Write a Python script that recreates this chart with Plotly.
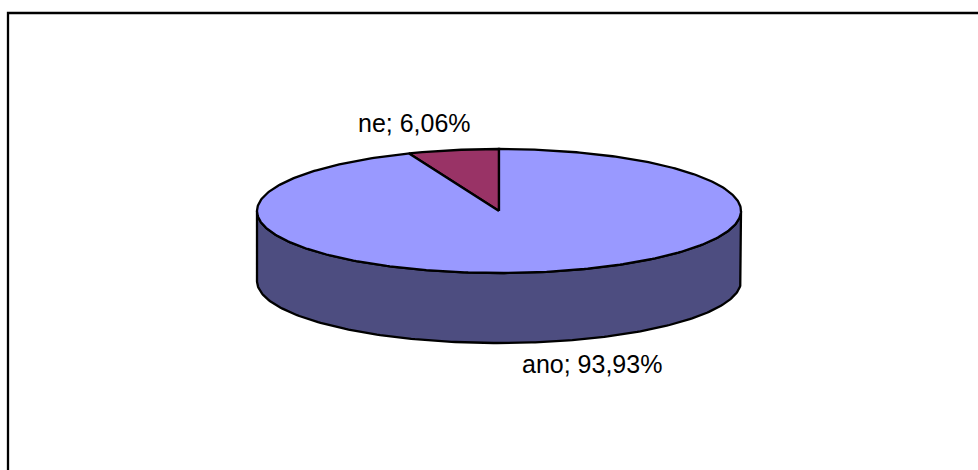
import numpy as np
import plotly.graph_objects as go

# ---- data ----
labels = ["ano", "ne"]
values = [93.93, 6.06]
top_colors = ["#9999FF", "#993366"]
side_colors = ["#4D4D80", "#4D1A33"]

# ---- geometry (pixel space) ----
W, H = 978, 470
cx, cy = 499, 211
rx, ry = 242, 62
depth = 70

total = sum(values)
# slices go counter-clockwise starting at 12 o'clock; 'ne' first, then 'ano'
order = [1, 0]
fracs = [values[i] / total for i in order]
starts = np.cumsum([0] + fracs[:-1]) * 2 * np.pi
ends = np.cumsum(fracs) * 2 * np.pi


def pt(theta, dy=0.0):
    return cx - rx * np.sin(theta), cy - ry * np.cos(theta) + dy


fig = go.Figure()

# side (front visible part: theta 90..270 deg)
for k, i in enumerate(order):
    a0 = max(starts[k], np.pi / 2)
    a1 = min(ends[k], 3 * np.pi / 2)
    if a1 <= a0:
        continue
    th = np.linspace(a0, a1, 200)
    xt, yt = pt(th)
    xb, yb = pt(th[::-1], depth)
    xs = np.concatenate([xt, xb, xt[:1]])
    ys = np.concatenate([yt, yb, yt[:1]])
    fig.add_trace(go.Scatter(x=xs, y=ys, mode="lines", fill="toself",
                             fillcolor=side_colors[i],
                             line=dict(color="black", width=2.3),
                             hoverinfo="skip", showlegend=False))

# top faces
for k, i in enumerate(order):
    th = np.linspace(starts[k], ends[k], 400)
    xa, ya = pt(th)
    xs = np.concatenate([[cx], xa, [cx]])
    ys = np.concatenate([[cy], ya, [cy]])
    fig.add_trace(go.Scatter(x=xs, y=ys, mode="lines", fill="toself",
                             fillcolor=top_colors[i],
                             line=dict(color="black", width=2.3),
                             hoverinfo="skip", showlegend=False))

# labels
label_pos = {"ne": (414, 123), "ano": (592, 364)}
for lab, val in zip(labels, values):
    txt = f"{lab}; {val:.2f}%".replace(".", ",")
    x, y = label_pos[lab]
    fig.add_annotation(x=x, y=y, text=txt, showarrow=False,
                       font=dict(family="Arial, Liberation Sans", size=25, color="black"),
                       xanchor="center", yanchor="middle")

# chart border
fig.add_shape(type="rect", x0=8, y0=13, x1=W + 20, y1=H + 20,
              line=dict(color="black", width=2.3), fillcolor="rgba(0,0,0,0)")

fig.update_xaxes(range=[0, W], visible=False, fixedrange=True)
fig.update_yaxes(range=[H, 0], visible=False, fixedrange=True)
fig.update_layout(width=W, height=H, margin=dict(l=0, r=0, t=0, b=0),
                  plot_bgcolor="white", paper_bgcolor="white", showlegend=False)

fig.write_html("out.html", config={"displayModeBar": False})

with open("out.html", "r", encoding="utf-8") as f:
    html = f.read()
html = html.replace("<head>", "<head><style>html,body{margin:0;padding:0;overflow:hidden;}</style>", 1)
with open("out.html", "w", encoding="utf-8") as f:
    f.write(html)
